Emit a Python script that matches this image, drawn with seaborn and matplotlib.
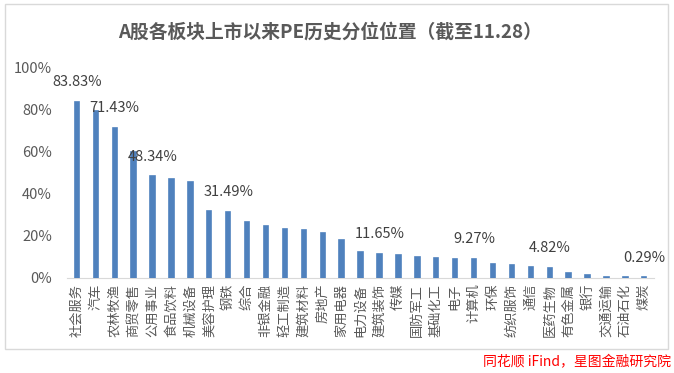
import numpy as np
import pandas as pd
import seaborn as sns
from matplotlib import pyplot as plt
from matplotlib.patches import Rectangle

# 申万一级行业，PE历史分位（截至11.28）
industries = ["社会服务", "汽车", "农林牧渔", "商贸零售", "公用事业", "食品饮料", "机械设备",
              "美容护理", "钢铁", "综合", "非银金融", "轻工制造", "建筑材料", "房地产",
              "家用电器", "电力设备", "建筑装饰", "传媒", "国防军工", "基础化工", "电子",
              "计算机", "环保", "纺织服饰", "通信", "医药生物", "有色金属", "银行",
              "交通运输", "石油石化", "煤炭"]
pe_pct = [83.83, 79.4, 71.43, 60.2, 48.34, 47.3, 45.9, 32.1, 31.49, 26.8, 24.9, 23.5,
          23.0, 21.6, 18.3, 12.5, 11.65, 11.1, 10.2, 9.7, 9.2, 9.27, 6.8, 6.3, 5.4,
          4.82, 2.5, 1.6, 0.5, 0.4, 0.29]
# 图上只标注了部分柱子
labelled = [0, 2, 4, 8, 16, 21, 25, 30]

df = pd.DataFrame({"industry": industries, "pct": pe_pct})

sns.set_style("white")
plt.rcParams['font.family'] = ['Noto Sans CJK SC', 'DejaVu Sans']

grey = "#595959"
bar_c = "#4F81BD"
fig = plt.figure(figsize=(6.74, 3.73), dpi=100)
ax = fig.add_axes([0.100, 0.2547, 0.870, 0.563])

sns.barplot(data=df, x="industry", y="pct", color=bar_c, width=0.23,
            saturation=1, ax=ax, edgecolor=bar_c, linewidth=1.2)
for p in ax.patches:
    p.set_zorder(3)

for i in labelled:
    ax.text(i, pe_pct[i] + 9.3, f"{pe_pct[i]:.2f}%", ha="center", va="center",
            fontsize=10.5, color="#404040")

ax.set_xlim(-0.5, len(industries) - 0.5)
ax.set_ylim(0, 100)
ax.set_yticks(np.arange(0, 101, 20))
ax.set_yticklabels([f"{v}%" for v in range(0, 101, 20)], fontsize=10.5, color=grey)
ax.set_xticks(range(len(industries)))
ax.set_xticklabels(industries, rotation=90, fontsize=9.5, color=grey)
ax.tick_params(axis="y", length=0, pad=11)
ax.tick_params(axis="x", length=0, pad=4)
ax.set_xlabel("")
ax.set_ylabel("")
for s in ["top", "right", "left"]:
    ax.spines[s].set_visible(False)
ax.spines["bottom"].set_color("#D9D9D9")
ax.spines["bottom"].set_zorder(1)

fig.text(0.489, 0.914, "A股各板块上市以来PE历史分位位置（截至11.28）", ha="center", va="center",
         fontsize=13.5, fontweight="bold", color=grey)

# chart border
fig.patches.append(Rectangle((5 / 674, 1 - 349 / 373), 663 / 674, 345 / 373,
                             transform=fig.transFigure, fill=False,
                             edgecolor="#D9D9D9", linewidth=1))

fig.text(0.995, 0.03, "同花顺 iFind，星图金融研究院", ha="right", va="center",
         fontsize=10, color="red", style="italic")

fig.savefig("out.png", dpi=100)
